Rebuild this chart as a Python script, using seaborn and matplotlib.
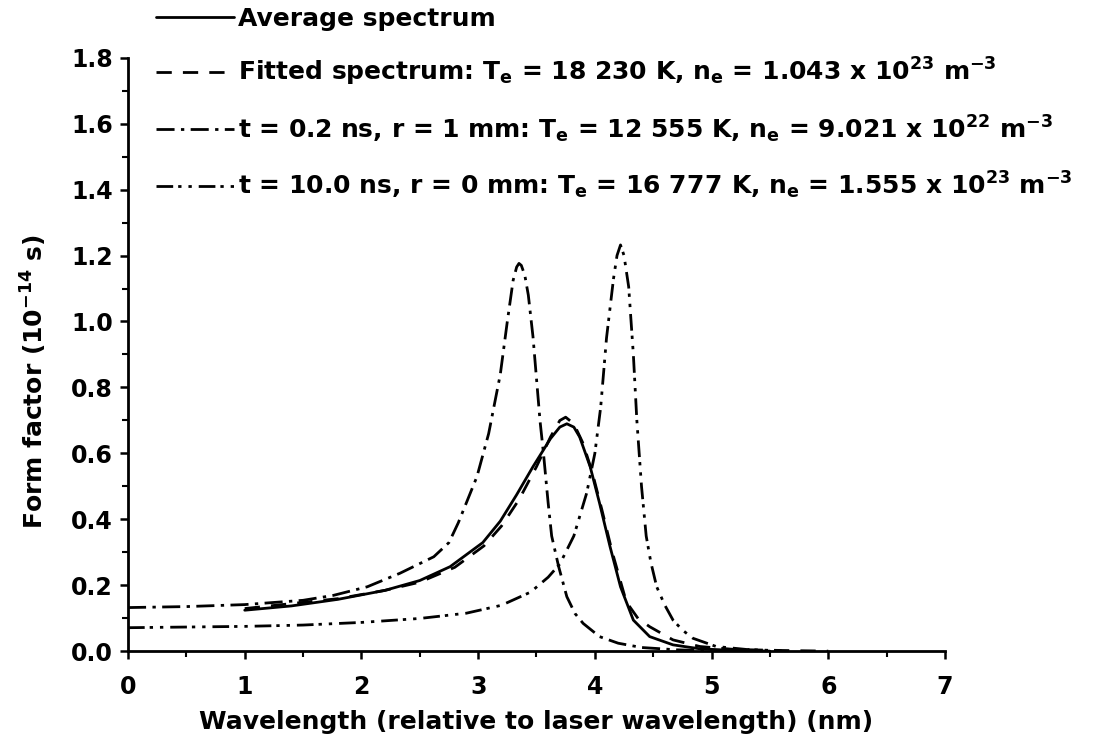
import matplotlib
matplotlib.use("Agg")
import matplotlib.pyplot as plt
import seaborn as sns
import pandas as pd
from matplotlib.ticker import MultipleLocator

# ---- data ----
x_avg = [1.0, 1.4, 1.8, 2.2, 2.5, 2.76, 3.04, 3.19, 3.33, 3.47, 3.62, 3.70, 3.76, 3.82, 3.87,
         3.96, 4.04, 4.13, 4.22, 4.33, 4.47, 4.67, 4.9, 5.2, 5.5]
y_avg = [0.125, 0.138, 0.158, 0.185, 0.215, 0.257, 0.33, 0.395, 0.475, 0.56, 0.645, 0.68, 0.69,
         0.68, 0.65, 0.56, 0.45, 0.318, 0.196, 0.095, 0.045, 0.02, 0.008, 0.003, 0.001]

x_fit = [1.0, 1.4, 1.8, 2.2, 2.5, 2.8, 3.05, 3.2, 3.35, 3.5, 3.62, 3.7, 3.75, 3.82, 3.9, 3.98,
         4.06, 4.15, 4.27, 4.37, 4.47, 4.67, 4.9, 5.2, 5.6, 6.0]
y_fit = [0.13, 0.145, 0.16, 0.185, 0.21, 0.255, 0.32, 0.38, 0.46, 0.56, 0.65, 0.70, 0.71, 0.69,
         0.63, 0.54, 0.43, 0.30, 0.15, 0.10, 0.075, 0.035, 0.015, 0.006, 0.003, 0.001]

x_02 = [0.0, 0.5, 1.0, 1.5, 1.76, 2.05, 2.33, 2.62, 2.75, 2.83, 2.99, 3.09, 3.19, 3.25, 3.30,
        3.33, 3.35, 3.37, 3.40, 3.43, 3.47, 3.53, 3.56, 3.60, 3.63, 3.69, 3.76, 3.83, 3.9, 4.04,
        4.2, 4.4, 4.7, 5.0]
y_02 = [0.133, 0.136, 0.142, 0.155, 0.17, 0.196, 0.237, 0.287, 0.33, 0.39, 0.53, 0.66, 0.84, 1.0,
        1.125, 1.165, 1.176, 1.17, 1.14, 1.08, 0.954, 0.70, 0.60, 0.45, 0.35, 0.257, 0.166, 0.115,
        0.085, 0.045, 0.025, 0.012, 0.005, 0.002]

x_10 = [0.0, 0.5, 1.0, 1.5, 2.0, 2.5, 2.9, 3.2, 3.45, 3.6, 3.7, 3.82, 3.93, 4.0, 4.05, 4.1, 4.16,
        4.19, 4.22, 4.25, 4.29, 4.33, 4.36, 4.4, 4.44, 4.48, 4.53, 4.60, 4.67, 4.75, 4.84, 5.04,
        5.3, 5.6]
y_10 = [0.072, 0.074, 0.076, 0.080, 0.088, 0.10, 0.116, 0.14, 0.18, 0.225, 0.265, 0.35, 0.48, 0.60,
        0.74, 0.95, 1.13, 1.20, 1.232, 1.20, 1.105, 0.90, 0.70, 0.50, 0.35, 0.27, 0.196, 0.14,
        0.095, 0.065, 0.04, 0.015, 0.006, 0.002]

labels = [
    "Average spectrum",
    r"Fitted spectrum: T$_e$ = 18 230 K, n$_e$ = 1.043 x 10$^{23}$ m$^{-3}$",
    r"t = 0.2 ns, r = 1 mm: T$_e$ = 12 555 K, n$_e$ = 9.021 x 10$^{22}$ m$^{-3}$",
    r"t = 10.0 ns, r = 0 mm: T$_e$ = 16 777 K, n$_e$ = 1.555 x 10$^{23}$ m$^{-3}$",
]
x_ticks = [0, 1, 2, 3, 4, 5, 6, 7]
y_ticks = [0.0, 0.2, 0.4, 0.6, 0.8, 1.0, 1.2, 1.4, 1.6, 1.8]

# ---- style ----
sns.set_style("ticks")
plt.rcParams["font.family"] = ["DejaVu Sans"]
plt.rcParams["font.weight"] = "bold"
plt.rcParams["axes.labelweight"] = "bold"
plt.rcParams["text.color"] = "black"
plt.rcParams["axes.labelcolor"] = "black"
plt.rcParams["xtick.color"] = "black"
plt.rcParams["ytick.color"] = "black"
plt.rcParams["axes.edgecolor"] = "black"
plt.rcParams["mathtext.fontset"] = "custom"
plt.rcParams["mathtext.rm"] = "DejaVu Sans:bold"
plt.rcParams["mathtext.it"] = "DejaVu Sans:bold"
plt.rcParams["mathtext.bf"] = "DejaVu Sans:bold"
plt.rcParams["mathtext.default"] = "rm"
plt.rcParams["axes.linewidth"] = 2.0

fig = plt.figure(figsize=(10.97, 7.54), dpi=100)
ax = fig.add_axes([0.1167, 0.136, 0.8614 - 0.1167, 0.9237 - 0.136])

lw = 2.0
series = [
    (x_avg, y_avg, "-"),
    (x_fit, y_fit, (0, (5.5, 4.0))),
    (x_02, y_02, (0, (6.5, 2.3, 1.2, 2.3))),
    (x_10, y_10, (0, (6.0, 1.8, 1.2, 2.5, 1.2, 2.5))),
]
for (xs, ys, ls), lab in zip(series, labels):
    df = pd.DataFrame({"x": xs, "y": ys})
    sns.lineplot(data=df, x="x", y="y", ax=ax, color="black", linewidth=lw,
                 linestyle=ls, label=lab, sort=False, estimator=None)

ax.set_xlim(0, 7)
ax.set_ylim(0, 1.8)
ax.set_xticks(x_ticks)
ax.set_yticks(y_ticks)
ax.set_xticklabels([str(t) for t in x_ticks])
ax.set_yticklabels([f"{t:.1f}" for t in y_ticks])
ax.xaxis.set_minor_locator(MultipleLocator(0.5))
ax.yaxis.set_minor_locator(MultipleLocator(0.1))
ax.tick_params(which="major", direction="out", length=6, width=1.8, labelsize=17,
               colors="black")
ax.tick_params(axis="x", which="major", pad=11)
ax.tick_params(axis="y", which="major", pad=5)
ax.tick_params(which="minor", direction="out", length=4, width=1.5)
sns.despine(ax=ax)

ax.set_xlabel("Wavelength (relative to laser wavelength) (nm)", fontsize=18, labelpad=8)
ax.set_ylabel(r"Form factor (10$^{-14}$ s)", fontsize=18)
ax.yaxis.set_label_coords(-0.097, 0.455)

leg = ax.legend(loc="upper left", bbox_to_anchor=(156 / 1097, 1 - 7 / 754),
                bbox_transform=fig.transFigure, frameon=False, prop={"size": 18, "weight": "bold"},
                handlelength=3.1, handletextpad=0.2, labelspacing=1.0,
                borderpad=0, borderaxespad=0)
for h in leg.get_lines():
    h.set_linewidth(lw)

fig.savefig("out.png", dpi=100)
